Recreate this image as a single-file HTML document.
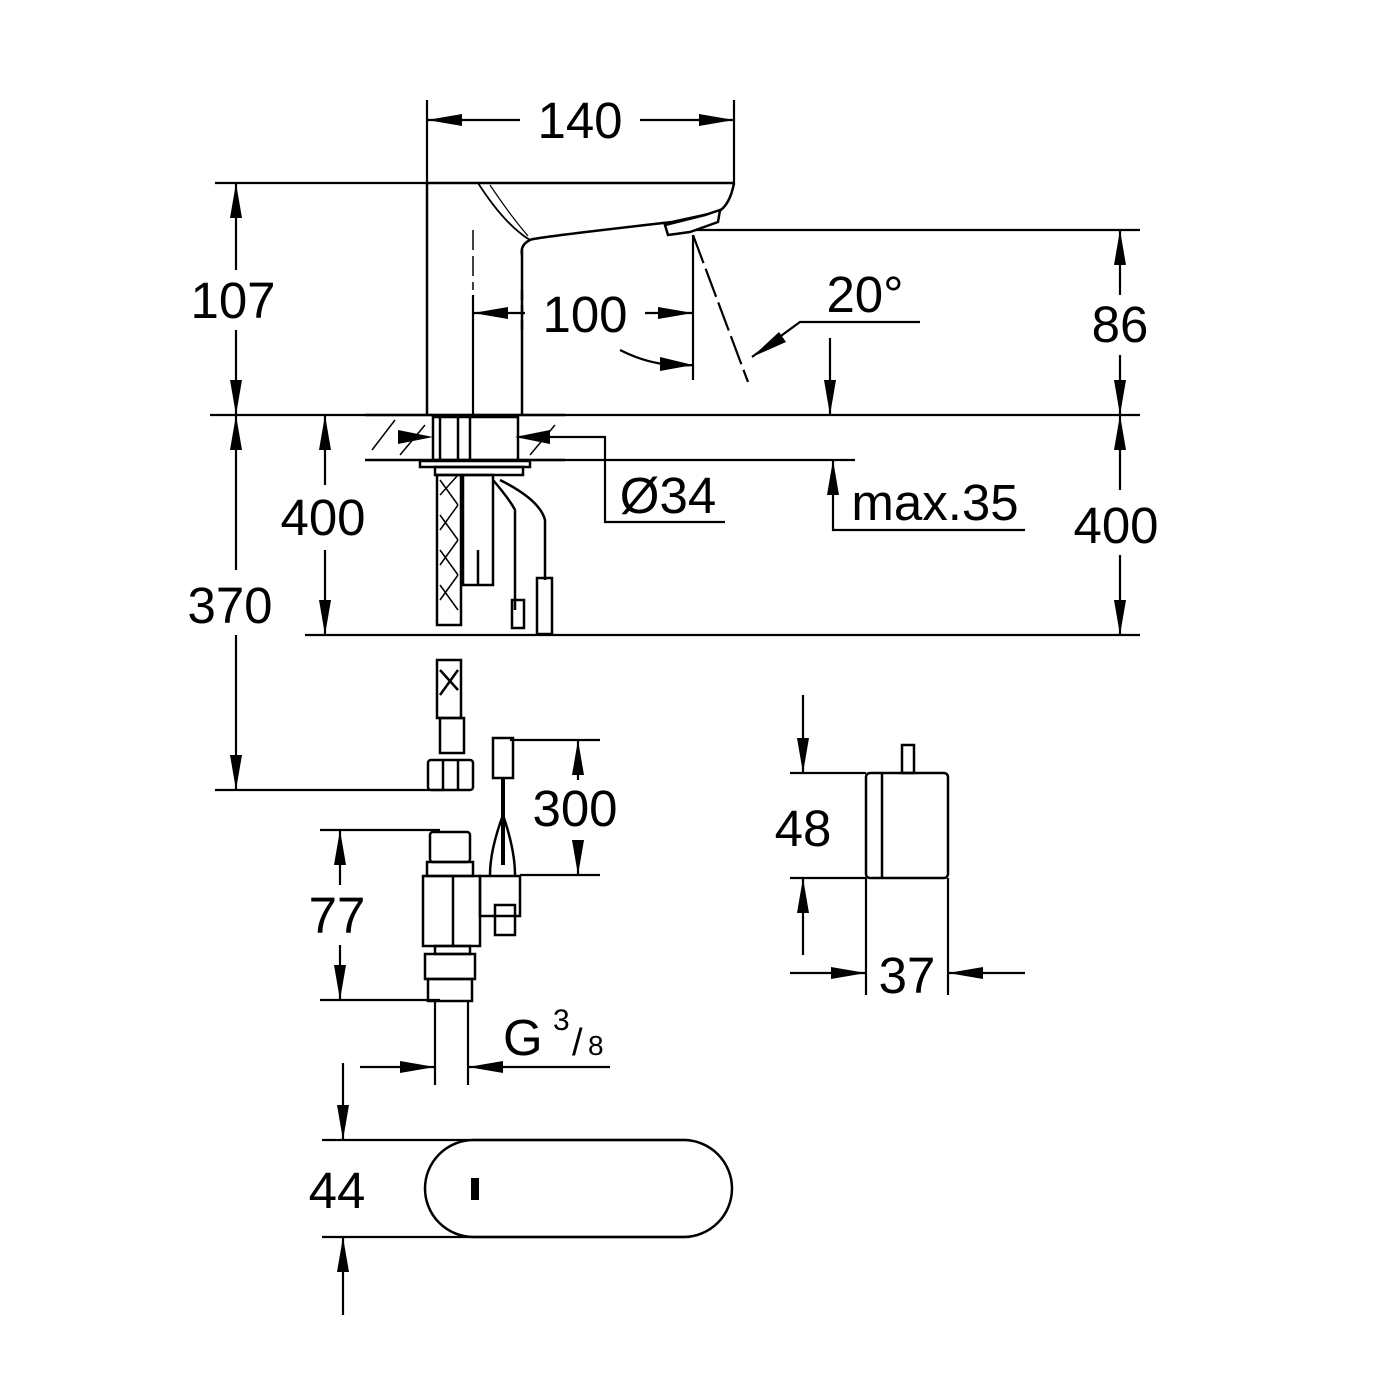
<!DOCTYPE html>
<html><head><meta charset="utf-8"><style>html,body{margin:0;padding:0;background:#fff}svg{display:block}text{font-family:"Liberation Sans",Arial,sans-serif;font-size:51px;fill:#000}</style></head>
<body>
<svg width="1400" height="1400" viewBox="0 0 1400 1400" xmlns="http://www.w3.org/2000/svg">
<g stroke="#000" stroke-width="2.2" fill="none">
<line x1="427" y1="100" x2="427" y2="185"/><line x1="734" y1="100" x2="734" y2="185"/>
<line x1="427" y1="120" x2="520" y2="120"/><line x1="640" y1="120" x2="734" y2="120"/>
<line x1="215" y1="183" x2="427" y2="183"/>
<line x1="236" y1="183" x2="236" y2="270"/><line x1="236" y1="330" x2="236" y2="415"/>
<line x1="210" y1="415" x2="1140" y2="415"/>
<line x1="695" y1="230" x2="1140" y2="230"/>
<line x1="1120" y1="230" x2="1120" y2="295"/><line x1="1120" y1="355" x2="1120" y2="415"/>
<line x1="473" y1="295" x2="473" y2="415"/>
<line x1="693" y1="235" x2="693" y2="380"/>
<line x1="473" y1="313" x2="525" y2="313"/><line x1="645" y1="313" x2="693" y2="313"/>
<line x1="693" y1="235" x2="748" y2="382" stroke-dasharray="30,6"/>
<path d="M620 350 Q655 368 693 365"/>
<polyline points="752,357 800,322 920,322"/>
<line x1="830" y1="338" x2="830" y2="415"/>
<line x1="1120" y1="415" x2="1120" y2="490"/><line x1="1120" y1="555" x2="1120" y2="635"/>
<line x1="305" y1="635" x2="1140" y2="635"/>
<line x1="325" y1="415" x2="325" y2="485"/><line x1="325" y1="550" x2="325" y2="635"/>
<line x1="236" y1="415" x2="236" y2="570"/><line x1="236" y1="635" x2="236" y2="790"/>
<line x1="215" y1="790" x2="445" y2="790"/>
<polyline points="520,437 605,437 605,522 725,522"/>
<line x1="515" y1="460" x2="855" y2="460"/>
<polyline points="833,460 833,530 1025,530"/>
<line x1="510" y1="740" x2="600" y2="740"/><line x1="520" y1="875" x2="600" y2="875"/>
<line x1="578" y1="740" x2="578" y2="780"/><line x1="578" y1="840" x2="578" y2="875"/>
<line x1="320" y1="830" x2="440" y2="830"/><line x1="320" y1="1000" x2="440" y2="1000"/>
<line x1="340" y1="830" x2="340" y2="885"/><line x1="340" y1="945" x2="340" y2="1000"/>
<line x1="435" y1="1000" x2="435" y2="1085"/><line x1="468" y1="1000" x2="468" y2="1085"/>
<line x1="360" y1="1067" x2="435" y2="1067"/><line x1="468" y1="1067" x2="610" y2="1067"/>
<line x1="790" y1="773" x2="866" y2="773"/><line x1="790" y1="878" x2="866" y2="878"/>
<line x1="803" y1="695" x2="803" y2="773"/><line x1="803" y1="878" x2="803" y2="955"/>
<line x1="866" y1="878" x2="866" y2="995"/><line x1="948" y1="878" x2="948" y2="995"/>
<line x1="790" y1="973" x2="866" y2="973"/><line x1="948" y1="973" x2="1025" y2="973"/>
<line x1="322" y1="1140" x2="690" y2="1140"/><line x1="322" y1="1237" x2="690" y2="1237"/>
<line x1="343" y1="1063" x2="343" y2="1140"/><line x1="343" y1="1237" x2="343" y2="1315"/>
</g>
<g fill="#000">
<polygon points="427,120 462,114 462,126"/><polygon points="734,120 699,114 699,126"/>
<polygon points="236,183 230,218 242,218"/><polygon points="236,415 230,380 242,380"/>
<polygon points="1120,230 1114,265 1126,265"/><polygon points="1120,415 1114,380 1126,380"/>
<polygon points="473,313 508,307 508,319"/><polygon points="693,313 658,307 658,319"/>
<polygon points="693,365 660,357 660,371"/>
<polygon points="752,357 779,332 786,342"/>
<polygon points="830,415 824,380 836,380"/>
<polygon points="1120,415 1114,450 1126,450"/><polygon points="1120,635 1114,600 1126,600"/>
<polygon points="325,415 319,450 331,450"/><polygon points="325,635 319,600 331,600"/>
<polygon points="236,415 230,450 242,450"/><polygon points="236,790 230,755 242,755"/>
<polygon points="433,437 398,430 398,444"/><polygon points="515,437 550,430 550,444"/>
<polygon points="833,460 827,495 839,495"/>
<polygon points="578,740 572,775 584,775"/><polygon points="578,875 572,840 584,840"/>
<polygon points="340,830 334,865 346,865"/><polygon points="340,1000 334,965 346,965"/>
<polygon points="435,1067 400,1061 400,1073"/><polygon points="468,1067 503,1061 503,1073"/>
<polygon points="803,773 797,738 809,738"/><polygon points="803,878 797,913 809,913"/>
<polygon points="866,973 831,967 831,979"/><polygon points="948,973 983,967 983,979"/>
<polygon points="343,1140 337,1105 349,1105"/><polygon points="343,1237 337,1272 349,1272"/>
</g>
<g stroke="#000" stroke-width="2.5" fill="none">
<polyline points="427,415 427,183 734,183"/>
<line x1="522" y1="250" x2="522" y2="415"/>
<path d="M734 183 Q730 205 718 212 L672 222 Q530 238 530 240 Q520 245 522 255"/>
<path d="M478 183 Q505 225 530 240" stroke-width="1.8"/>
<path d="M490 185 Q510 215 528 236" stroke-width="1.2"/>
<polygon points="665,225 705,215 720,210 718,222 690,232 668,235" fill="#fff"/>
<line x1="473" y1="230" x2="473" y2="290" stroke-width="1.5" stroke-dasharray="20,6"/>
<line x1="473" y1="330" x2="473" y2="415" stroke-width="1.5" stroke-dasharray="20,6"/>
<line x1="522" y1="290" x2="522" y2="330" stroke-dasharray="10,5"/>
<line x1="365" y1="415" x2="565" y2="415"/>
<line x1="365" y1="460" x2="565" y2="460"/>
<rect x="433" y="417" width="85" height="43"/>
<line x1="440" y1="417" x2="440" y2="460"/><line x1="458" y1="417" x2="458" y2="460"/><line x1="470" y1="417" x2="470" y2="460"/>
<rect x="420" y="461" width="110" height="6"/>
<rect x="435" y="467" width="88" height="8"/>
<rect x="437" y="475" width="24" height="150"/>
<rect x="463" y="475" width="30" height="110"/>
<line x1="478" y1="550" x2="478" y2="585"/>
<path d="M493 480 Q510 500 515 510 L515 610 M500 480 Q540 500 545 520 L545 580"/>
<rect x="512" y="600" width="12" height="28"/>
<rect x="537" y="578" width="15" height="56"/>
</g>
<g stroke="#000" stroke-width="1.5">
<line x1="372" y1="450" x2="395" y2="420"/><line x1="400" y1="455" x2="425" y2="425"/><line x1="530" y1="455" x2="555" y2="425"/>
<line x1="440" y1="495" x2="458" y2="475"/><line x1="440" y1="530" x2="458" y2="505"/><line x1="440" y1="565" x2="458" y2="540"/><line x1="440" y1="600" x2="458" y2="575"/>
<line x1="440" y1="480" x2="458" y2="505"/><line x1="440" y1="515" x2="458" y2="540"/><line x1="440" y1="550" x2="458" y2="575"/><line x1="440" y1="585" x2="458" y2="610"/>
</g>
<g stroke="#000" stroke-width="2.5" fill="none">
<rect x="437" y="660" width="24" height="58"/>
<line x1="440" y1="670" x2="458" y2="690"/><line x1="458" y1="670" x2="440" y2="695"/>
<rect x="440" y="718" width="24" height="35"/>
<rect x="428" y="760" width="45" height="30" rx="3"/>
<line x1="443" y1="760" x2="443" y2="790"/><line x1="458" y1="760" x2="458" y2="790"/>
<rect x="493" y="738" width="20" height="40"/>
<line x1="503" y1="778" x2="503" y2="865" stroke-width="4"/>
<path d="M503 815 Q490 850 490 875 M503 815 Q515 850 515 875"/>
<rect x="430" y="832" width="40" height="30" rx="3"/>
<rect x="427" y="862" width="46" height="14"/>
<rect x="423" y="876" width="57" height="70"/>
<line x1="453" y1="876" x2="453" y2="946"/>
<rect x="480" y="876" width="40" height="40"/>
<rect x="495" y="905" width="20" height="30"/>
<rect x="435" y="946" width="35" height="8"/>
<rect x="425" y="954" width="50" height="25"/>
<rect x="428" y="979" width="44" height="22"/>
<rect x="866" y="773" width="82" height="105" rx="4"/>
<line x1="882" y1="773" x2="882" y2="878"/>
<rect x="902" y="745" width="12" height="28"/>
<rect x="425" y="1140" width="307" height="97" rx="48.5"/>
</g>
<rect x="471" y="1178" width="8" height="22" fill="#000"/>
<text x="580" y="138" text-anchor="middle">140</text>
<text x="233" y="318" text-anchor="middle">107</text>
<text x="585" y="332" text-anchor="middle">100</text>
<text x="865" y="312" text-anchor="middle">20°</text>
<text x="1120" y="342" text-anchor="middle">86</text>
<text x="323" y="535" text-anchor="middle">400</text>
<text x="668" y="513" text-anchor="middle">Ø34</text>
<text x="935" y="520" text-anchor="middle">max.35</text>
<text x="1116" y="543" text-anchor="middle">400</text>
<text x="230" y="623" text-anchor="middle">370</text>
<text x="575" y="826" text-anchor="middle">300</text>
<text x="803" y="846" text-anchor="middle">48</text>
<text x="337" y="933" text-anchor="middle">77</text>
<text x="907" y="993" text-anchor="middle">37</text>
<text x="503" y="1055">G</text>
<text x="553" y="1030" style="font-size:30px">3</text>
<text x="572" y="1055" style="font-size:38px">/</text>
<text x="588" y="1055" style="font-size:28px">8</text>
<text x="337" y="1208" text-anchor="middle">44</text>
</svg>
</body></html>
